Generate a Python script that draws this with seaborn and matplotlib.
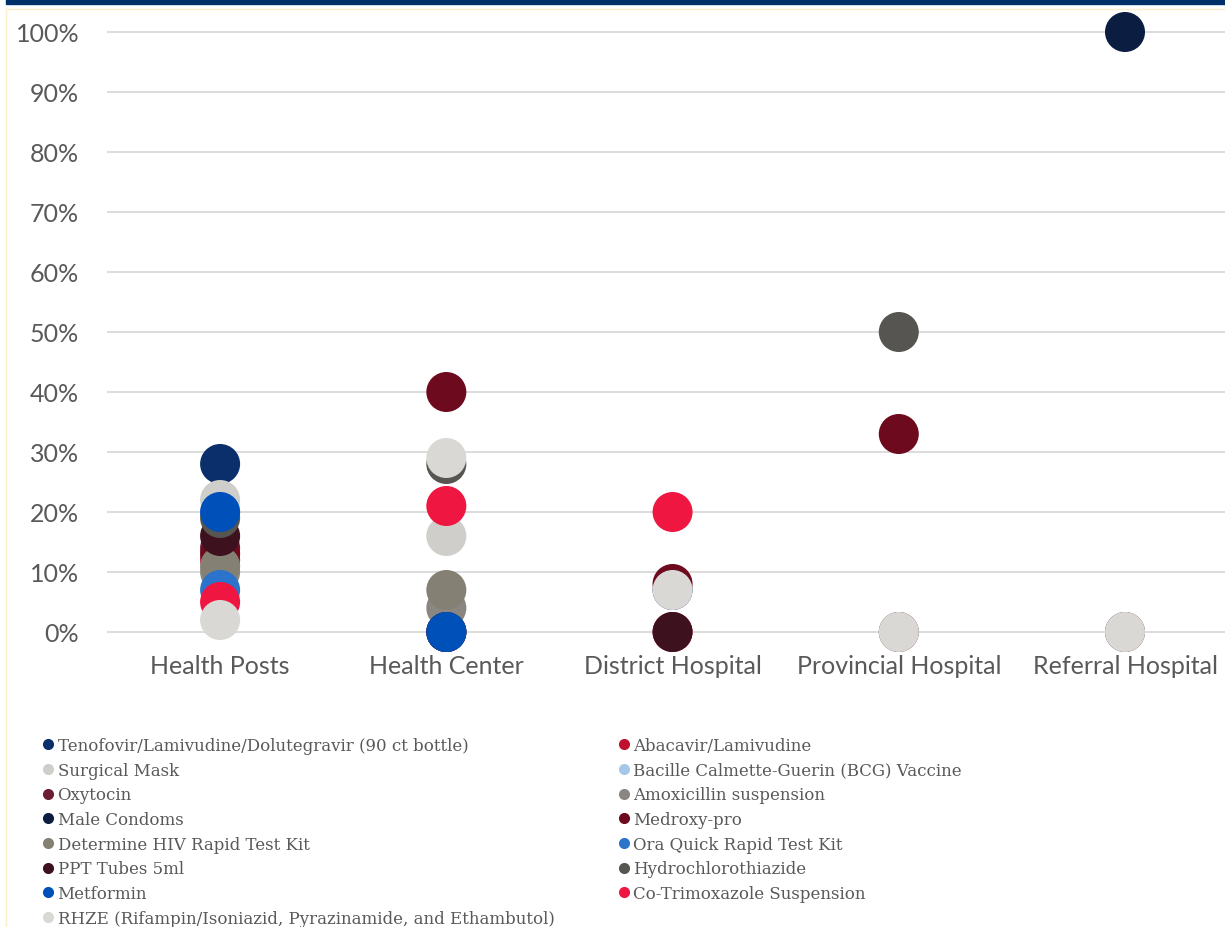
import numpy as np
import pandas as pd
import matplotlib
matplotlib.use("Agg")
import matplotlib.pyplot as plt
import seaborn as sns
from matplotlib.lines import Line2D
from matplotlib.patches import Rectangle
from matplotlib.ticker import PercentFormatter, MultipleLocator

nan = np.nan

# Facility levels along the x axis
facilities = ["Health Posts", "Health Center", "District Hospital",
              "Provincial Hospital", "Referral Hospital"]

# Share of facilities stocked out, per item and facility level
tenofovir      = [0.28, 0.00, 0.07, nan, nan]
abacavir       = [0.12, 0.00, 0.00, nan, nan]
surgical_mask  = [0.22, 0.16, nan, nan, nan]
bcg_vaccine    = [0.20, nan, nan, nan, nan]
oxytocin       = [0.14, nan, nan, 0.00, 0.00]
amoxicillin    = [0.10, 0.04, nan, nan, nan]
male_condoms   = [nan, nan, nan, nan, 1.00]
medroxy_pro    = [0.13, 0.40, 0.08, 0.33, nan]
determine_hiv  = [0.11, 0.07, nan, nan, nan]
ora_quick      = [0.07, 0.00, nan, nan, nan]
ppt_tubes      = [0.16, 0.00, 0.00, nan, nan]
hctz           = [0.19, 0.28, nan, 0.50, nan]
metformin      = [0.20, 0.00, nan, nan, nan]
cotrimoxazole  = [0.05, 0.21, 0.20, nan, nan]
rhze           = [0.02, 0.29, 0.07, 0.00, 0.00]

items = [
    "Tenofovir/Lamivudine/Dolutegravir (90 ct bottle)",
    "Abacavir/Lamivudine",
    "Surgical Mask",
    "Bacille Calmette-Guerin (BCG) Vaccine",
    "Oxytocin",
    "Amoxicillin suspension",
    "Male Condoms",
    "Medroxy-pro",
    "Determine HIV Rapid Test Kit",
    "Ora Quick Rapid Test Kit",
    "PPT Tubes 5ml",
    "Hydrochlorothiazide",
    "Metformin",
    "Co-Trimoxazole Suspension",
    "RHZE (Rifampin/Isoniazid, Pyrazinamide, and Ethambutol)",
]
values = [tenofovir, abacavir, surgical_mask, bcg_vaccine, oxytocin,
          amoxicillin, male_condoms, medroxy_pro, determine_hiv, ora_quick,
          ppt_tubes, hctz, metformin, cotrimoxazole, rhze]
colors = ["#0b2f6a", "#c0102f", "#cfcecb", "#a7c7ea", "#6c1d33",
          "#8a8681", "#0c1d42", "#6d0a1e", "#858074", "#2c73cc",
          "#3d111d", "#565551", "#0050b9", "#ef1641", "#d9d8d5"]

rows = []
for name, vals in zip(items, values):
    for fac, v in zip(facilities, vals):
        if not np.isnan(v):
            rows.append({"item": name, "facility": fac, "share": v})
df = pd.DataFrame(rows)
df["facility"] = pd.Categorical(df["facility"], categories=facilities, ordered=True)

sns.set_style("white")
plt.rcParams["font.family"] = ["Lato", "DejaVu Sans"]

W, H = 1225, 928
fig = plt.figure(figsize=(W / 100, H / 100), dpi=100)
ax = fig.add_axes([107 / W, (H - 645) / H, 1 - 107 / W, 630 / H])

sns.scatterplot(data=df, x="facility", y="share", hue="item",
                hue_order=items, palette=dict(zip(items, colors)),
                s=830, linewidth=0, legend=False, ax=ax,
                clip_on=False, zorder=3)

ax.set_xlim(-0.5, 4.442)
ax.set_ylim(-0.02, 1.03)
ax.yaxis.set_major_locator(MultipleLocator(0.1))
ax.yaxis.set_major_formatter(PercentFormatter(1.0, decimals=0))
ax.set_xlabel("")
ax.set_ylabel("")
ax.yaxis.grid(True, color="#d9d9d9", lw=1.3)
ax.xaxis.grid(False)
ax.set_axisbelow(True)
for sp in ax.spines.values():
    sp.set_visible(False)
ax.tick_params(axis="both", length=0, labelsize=18, labelcolor="#595959")
ax.tick_params(axis="y", pad=20)
ax.tick_params(axis="x", pad=7)

# Frame decoration: navy band on top and thin cream border
fig.patches.append(Rectangle((6 / W, 1 - 5 / H), 1, 5 / H,
                             transform=fig.transFigure, color="#003069",
                             zorder=0))
fig.lines.append(Line2D([6 / W, 6 / W], [0, 1 - 10 / H],
                        transform=fig.transFigure, color="#fcefc9", lw=1))
fig.lines.append(Line2D([6 / W, 1], [1 - 10 / H, 1 - 10 / H],
                        transform=fig.transFigure, color="#fcefc9", lw=1))

# Two-column legend, filled row by row
def make_handles(idx):
    return [Line2D([], [], ls="", marker="o", markersize=8,
                   markerfacecolor=colors[i], markeredgewidth=0)
            for i in idx]

left_idx = list(range(0, len(items), 2))
right_idx = list(range(1, len(items), 2))
legend_kw = dict(loc="upper left", frameon=False, borderpad=0,
                 borderaxespad=0, handlelength=0.65, handletextpad=0.22,
                 labelspacing=0.46, labelcolor="#595959",
                 prop={"family": "DejaVu Serif", "size": 12})
leg1 = fig.legend(make_handles(left_idx), [items[i] for i in left_idx],
                  bbox_to_anchor=(43 / W, 1 - 738 / H), **legend_kw)
leg2 = fig.legend(make_handles(right_idx), [items[i] for i in right_idx],
                  bbox_to_anchor=(619 / W, 1 - 738 / H), **legend_kw)

fig.savefig("out.png", dpi=100)
